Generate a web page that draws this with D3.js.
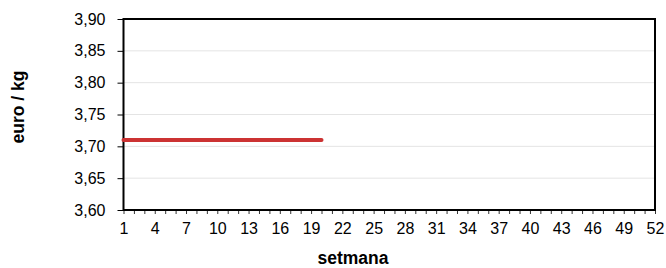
<!DOCTYPE html>
<html><head><meta charset="utf-8">
<script src="https://cdn.jsdelivr.net/npm/d3@7"></script>
<style>body{margin:0;background:#fff}svg{display:block}text{font-family:"Liberation Sans",Arial,sans-serif}</style>
</head><body>
<svg id="c" width="666" height="268"></svg>
<script>
const weeks = [1,2,3,4,5,6,7,8,9,10,11,12,13,14,15,16,17,18,19,20];
const prices = [3.71,3.71,3.71,3.71,3.71,3.71,3.71,3.71,3.71,3.71,3.71,3.71,3.71,3.71,3.71,3.71,3.71,3.71,3.71,3.71];
const yTicks = [3.60,3.65,3.70,3.75,3.80,3.85,3.90];
const xTickLabels = [1,4,7,10,13,16,19,22,25,28,31,34,37,40,43,46,49,52];
const xLabel = "setmana", yLabel = "euro / kg";

const svg = d3.select("#c");
const L=123.5, R=655, T=19, B=210;
const x = d3.scaleLinear().domain([1,52]).range([L,R]);
const y = d3.scaleLinear().domain([3.60,3.90]).range([B,T]);
const fmt = v => d3.format(".2f")(v).replace(".", ",");

// gridlines
svg.append("g").selectAll("line").data(yTicks.slice(1,-1)).join("line")
  .attr("x1",L).attr("x2",R).attr("y1",d=>y(d)).attr("y2",d=>y(d))
  .attr("stroke","#e4e4e4").attr("stroke-width",1);

// y axis
const ya = svg.append("g").attr("transform",`translate(${L},0)`)
  .call(d3.axisLeft(y).tickValues(yTicks).tickFormat(fmt).tickSize(6).tickPadding(12));
ya.select(".domain").remove();
ya.selectAll("line").attr("stroke","#000").attr("stroke-width",1);
ya.selectAll("text").attr("font-size",16).attr("fill","#000");

// x axis
const xa = svg.append("g").attr("transform",`translate(0,${B})`)
  .call(d3.axisBottom(x).tickValues(d3.range(1,53)).tickFormat(d=>xTickLabels.includes(d)?d:"").tickSize(4).tickPadding(9));
xa.select(".domain").remove();
xa.selectAll("line").attr("stroke","#000").attr("stroke-width",0.8);
xa.selectAll("text").attr("font-size",16).attr("fill","#000");

// frame
svg.append("rect").attr("x",L).attr("y",T).attr("width",R-L).attr("height",B-T)
  .attr("fill","none").attr("stroke","#000").attr("stroke-width",2);

// series
svg.append("path").datum(weeks.map((w,i)=>[w,prices[i]]))
  .attr("d",d3.line().x(d=>x(d[0])).y(d=>y(d[1])))
  .attr("fill","none").attr("stroke","#cc3333").attr("stroke-width",4).attr("stroke-linecap","round");

svg.append("text").attr("x",353).attr("y",264).attr("text-anchor","middle")
  .attr("font-size",17.5).attr("font-weight","bold").text(xLabel);
svg.append("text").attr("transform",`translate(24,107) rotate(-90)`).attr("text-anchor","middle")
  .attr("font-size",17.5).attr("font-weight","bold").text(yLabel);
</script>
</body></html>
